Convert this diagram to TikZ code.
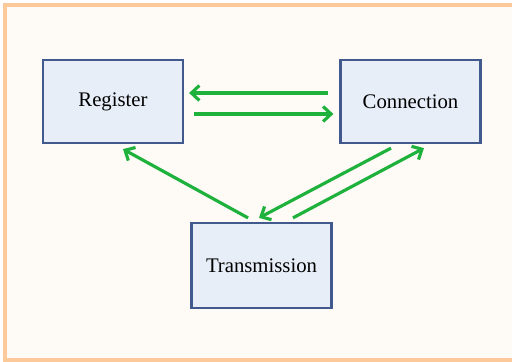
\documentclass[tikz,border=0pt]{standalone}
\usepackage{fontspec}
\setmainfont{Liberation Serif}
\usetikzlibrary{arrows.meta, calc, shadows}

\definecolor{panelfill}{HTML}{FEFAF6}
\definecolor{panelline}{HTML}{FBC99A}
\definecolor{boxfill}{HTML}{E8EEF8}
\definecolor{boxline}{HTML}{41598C}
\definecolor{linkgreen}{HTML}{1EB23C}

\begin{document}
\begin{tikzpicture}[
  x=0.02cm, y=-0.02cm,
  unit/.style={draw=boxline, fill=boxfill, line width=1.3pt,
               minimum width=2.8cm, minimum height=1.66cm,
               font=\fontsize{11.8}{14}\selectfont,
               drop shadow={shadow xshift=0.4pt, shadow yshift=-0.6pt, opacity=0.25}},
  link/.style={-{Straight Barb[length=4.5pt, width=8.5pt, line width=1.8pt]},
               draw=linkgreen, line width=1.8pt}
]
\useasboundingbox (0,0) rectangle (512,362);
\draw[panelline, fill=panelfill, line width=1.8pt] (5,5) rectangle (530,360);

\node[unit] (reg) at (113,101.5) {Register};
\node[unit] (con) at (410.5,101.5) {Connection};
\node[unit, minimum height=1.7cm] (trans) at (261.5,265.5) {Transmission};

% horizontal pair
\draw[link] ($(con.west)+(-11,-8.5)$) -- ($(reg.east)+(5,-8.5)$);
\draw[link] ($(reg.east)+(10,12.5)$) -- ($(con.west)+(-6,12.5)$);

% diagonals to and from the bottom box
\draw[link] ($(trans.north)+(-13.5,-4)$) -- ($(reg.south)+(10,5)$);
\draw[link] ($(con.south)+(-19.5,4)$) -- ($(trans.north)+(-2.5,-4)$);
\draw[link] ($(trans.north)+(31.5,-4)$) -- ($(con.south)+(13.5,4)$);
\end{tikzpicture}
\end{document}
